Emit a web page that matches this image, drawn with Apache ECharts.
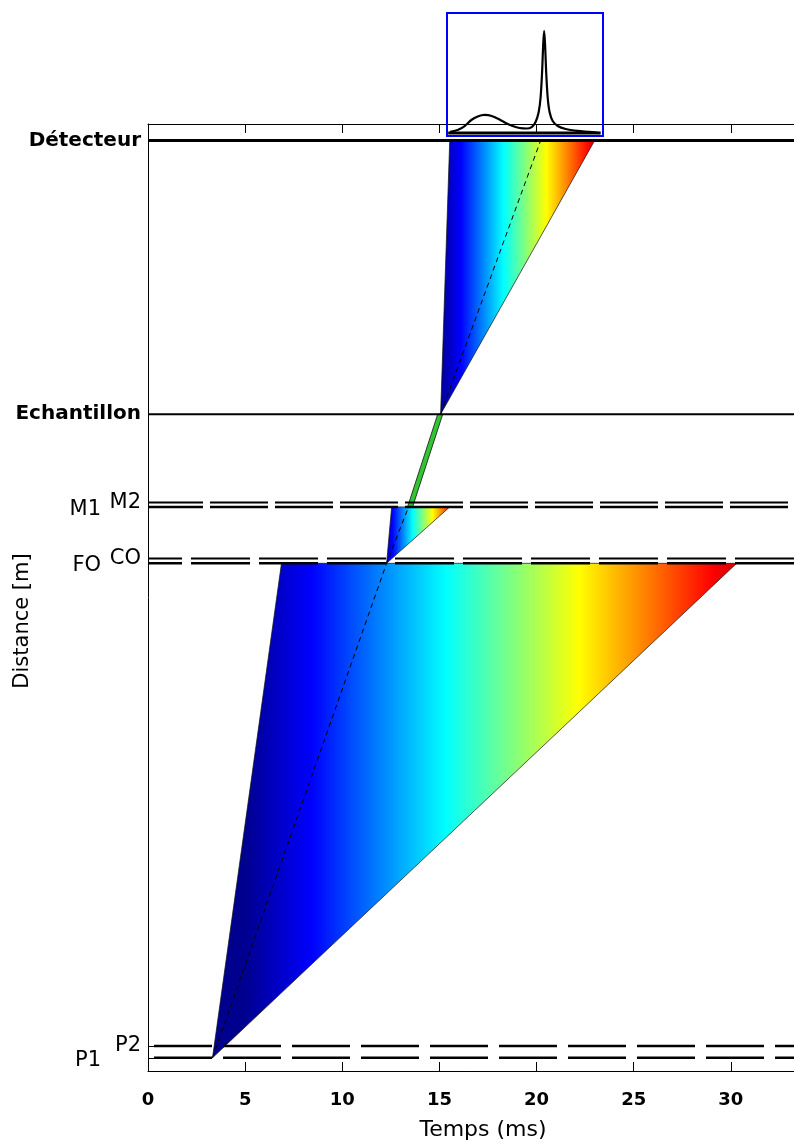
<!DOCTYPE html>
<html><head><meta charset="utf-8">
<script src="https://cdn.jsdelivr.net/npm/echarts@6/dist/echarts.min.js"></script>
<style>html,body{margin:0;padding:0;background:#fff}#c{width:794px;height:1146px}</style>
</head><body><div id="c"></div>
<script>
// ---------------- data ----------------
const elementNames = ['P1', 'P2', 'FO', 'CO', 'M1', 'M2', 'Echantillon', 'Détecteur'];
const elementDist  = [0.32, 0.61, 12.33, 12.45, 13.70, 13.81, 15.95, 22.60];   // m
const timeTicks = [0, 5, 10, 15, 20, 25, 30];

// neutron fans (time in ms)
const fanApexT   = [3.32, 12.28, 15.06];
const fanApexAt  = ['P1', 'FO', 'Echantillon'];
const fanLeftT   = [6.87, 12.54, 15.53];
const fanRightT  = [30.30, 15.53, 22.99];
const fanTopAt   = ['FO', 'M1', 'Détecteur'];
const fanColorStartT = [5.0, 12.07, 15.0];
const fanColorEndT   = [32.5, 16.19, 23.8];

// mean trajectory (dashed)
const pathLowT  = [3.32, 12.28, 13.41];
const pathLowAt = ['P1', 'FO', 'M1'];
const pathHighT  = [15.06, 20.21];
const pathHighAt = ['Echantillon', 'Détecteur'];

// monochromatic band M2 -> sample
const bandT  = [13.36, 13.62, 15.17, 14.91];
const bandAt = ['M1', 'M1', 'Echantillon', 'Echantillon'];

// detector signal (inset)
const detT = [15.55,15.94,16.30,16.64,16.97,17.33,17.69,18.05,18.41,18.77,19.13,19.49,19.75,19.95,20.11,20.21,20.29,20.34,20.39,20.44,20.49,20.57,20.67,20.83,21.09,21.50,22.12,22.73,23.25];
const detI = [0.033,0.049,0.081,0.13,0.159,0.171,0.163,0.138,0.106,0.081,0.065,0.061,0.073,0.114,0.195,0.317,0.537,0.74,0.854,0.74,0.537,0.317,0.195,0.122,0.081,0.057,0.041,0.033,0.024];
const detBaseT = [15.45, 23.3];
const detBaseI = [0.024, 0.024];

// ---------------- styles ----------------
const FONT = 'DejaVu Sans';
const dist = n => elementDist[elementNames.indexOf(n)];
const jet = [
  {offset: 0, color: '#00008f'}, {offset: 0.125, color: '#0000ff'},
  {offset: 0.375, color: '#00ffff'}, {offset: 0.625, color: '#ffff00'},
  {offset: 0.875, color: '#ff0000'}, {offset: 1, color: '#800000'}
];
const lineStyles = {
  'P1': {width: 2.5, type: [58, 11], dashOffset: 63},
  'P2': {width: 2.5, type: [58, 11], dashOffset: 63},
  'FO': {width: 2.5, type: [59, 9], dashOffset: 25},
  'CO': {width: 2, type: [59, 9], dashOffset: 25},
  'M1': {width: 2.5, type: [58, 7], dashOffset: 3},
  'M2': {width: 2, type: [58, 7], dashOffset: 3},
  'Echantillon': {width: 2, type: 'solid'},
  'Détecteur': {width: 3, type: 'solid'}
};
const labelClass = {'P1': 'lo', 'FO': 'lo', 'M1': 'lo', 'P2': 'hi', 'CO': 'hi', 'M2': 'hi', 'Echantillon': 'big', 'Détecteur': 'big'};

const XMAX = 33.25;

const fanData = fanApexT.map((a, i) => [a, dist(fanApexAt[i]), fanLeftT[i], fanRightT[i], dist(fanTopAt[i]), fanColorStartT[i], fanColorEndT[i]]);
const bandData = [bandT.flatMap((t, i) => [t, dist(bandAt[i])])];

const series = [];
series.push({
  type: 'custom', xAxisIndex: 0, yAxisIndex: 0, z: 2,
  renderItem: (params, api) => {
    const a = api.coord([api.value(0), api.value(1)]);
    const l = api.coord([api.value(2), api.value(4)]);
    const r = api.coord([api.value(3), api.value(4)]);
    const g0 = api.coord([api.value(5), api.value(4)]);
    const g1 = api.coord([api.value(6), api.value(4)]);
    return {
      type: 'polygon', shape: {points: [a, l, r]},
      style: {fill: new echarts.graphic.LinearGradient(g0[0], 0, g1[0], 0, jet, true), stroke: '#111', lineWidth: 0.7}
    };
  },
  encode: {x: [0, 2, 3], y: [1, 4]},
  data: fanData, silent: true
});
series.push({
  type: 'custom', xAxisIndex: 0, yAxisIndex: 0, z: 3,
  renderItem: (params, api) => {
    const pts = [];
    for (let k = 0; k < 4; k++) pts.push(api.coord([api.value(2 * k), api.value(2 * k + 1)]));
    return {type: 'polygon', shape: {points: pts}, style: {fill: '#33c433', stroke: '#111', lineWidth: 0.8}};
  },
  encode: {x: [0, 2, 4, 6], y: [1, 3, 5, 7]},
  data: bandData, silent: true
});
series.push({
  type: 'line', xAxisIndex: 0, yAxisIndex: 0, z: 4, symbol: 'none', silent: true,
  lineStyle: {color: '#000', width: 1, type: [5, 4]},
  data: pathLowT.map((t, i) => [t, dist(pathLowAt[i])])
});
series.push({
  type: 'line', xAxisIndex: 0, yAxisIndex: 0, z: 4, symbol: 'none', silent: true,
  lineStyle: {color: '#000', width: 1, type: [5, 4]},
  data: pathHighT.map((t, i) => [t, dist(pathHighAt[i])])
});
elementNames.forEach((n, i) => {
  const s = lineStyles[n];
  series.push({
    type: 'line', xAxisIndex: 0, yAxisIndex: 0, z: 5, symbol: 'none', silent: true,
    lineStyle: {color: '#000', width: s.width, type: s.type, dashOffset: s.dashOffset || 0, cap: 'butt'},
    data: [[0, elementDist[i]], [XMAX, elementDist[i]]]
  });
});
// inset
series.push({
  type: 'line', xAxisIndex: 2, yAxisIndex: 1, symbol: 'none', silent: true,
  lineStyle: {color: '#000', width: 3},
  data: detBaseT.map((t, i) => [t, detBaseI[i]])
});
series.push({
  type: 'line', xAxisIndex: 2, yAxisIndex: 1, symbol: 'none', silent: true, smooth: 0.2,
  lineStyle: {color: '#000', width: 2.2},
  data: detT.map((t, i) => [t, detI[i]])
});

const option = {
  animation: false,
  backgroundColor: '#fff',
  textStyle: {fontFamily: FONT, color: '#000'},
  grid: [
    {left: 148, right: 0, top: 124, bottom: 72, show: false},
    {left: 447, top: 13, width: 156, height: 123, show: true, borderColor: '#0000ff', borderWidth: 2, backgroundColor: 'transparent', z: 10}
  ],
  xAxis: [
    {
      gridIndex: 0, type: 'value', min: 0, max: XMAX, interval: 5, position: 'bottom',
      axisLine: {show: true, onZero: false, lineStyle: {color: '#000', width: 1}},
      axisTick: {show: true, inside: true, length: 9, lineStyle: {color: '#000'}},
      splitLine: {show: false},
      axisLabel: {show: true, margin: 20, fontFamily: FONT, fontSize: 18, fontWeight: 'bold', color: '#000',
        showMaxLabel: false, formatter: v => timeTicks.includes(v) ? String(v) : ''},
      name: 'Temps (ms)', nameLocation: 'middle', nameGap: 48,
      nameTextStyle: {fontFamily: FONT, fontSize: 22, color: '#000', padding: [0, 0, 0, 24]}
    },
    {
      gridIndex: 0, type: 'value', min: 0, max: XMAX, interval: 5, position: 'top',
      axisLine: {show: true, onZero: false, lineStyle: {color: '#000', width: 1}},
      axisTick: {show: true, inside: true, length: 9, lineStyle: {color: '#000'}},
      axisLabel: {show: false}, splitLine: {show: false}
    },
    {
      gridIndex: 1, type: 'value', min: 15.39, max: 23.42, show: false
    }
  ],
  yAxis: [
    {
      gridIndex: 0, type: 'value', min: 0, max: 23,
      axisLine: {show: true, onZero: false, lineStyle: {color: '#000', width: 1}},
      axisTick: {show: true, inside: true, length: 8, customValues: elementDist, lineStyle: {color: '#000'}},
      splitLine: {show: false},
      axisLabel: {
        show: true, margin: 7, customValues: elementDist,
        formatter: v => {
          const i = elementDist.findIndex(d => Math.abs(d - v) < 1e-6);
          if (i < 0) return '';
          const n = elementNames[i];
          return '{' + labelClass[n] + '|' + n + '}';
        },
        rich: {
          lo: {fontFamily: FONT, fontSize: 21, color: '#000', padding: [5, 40, 0, 0]},
          hi: {fontFamily: FONT, fontSize: 21, color: '#000', padding: [0, 0, 0, 0]},
          big: {fontFamily: FONT, fontSize: 20, fontWeight: 'bold', color: '#000'}
        }
      }
    },
    {gridIndex: 1, type: 'value', min: 0, max: 1, show: false}
  ],
  graphic: [
    {type: 'text', x: 23, y: 621, rotation: Math.PI / 2, silent: true,
     style: {text: 'Distance [m]', fontFamily: FONT, fontSize: 21, fill: '#000', align: 'center', verticalAlign: 'middle'}}
  ],
  series: series
};

const chart = echarts.init(document.getElementById('c'), null, {renderer: 'canvas', width: 794, height: 1146});
chart.setOption(option);
</script>
</body></html>
